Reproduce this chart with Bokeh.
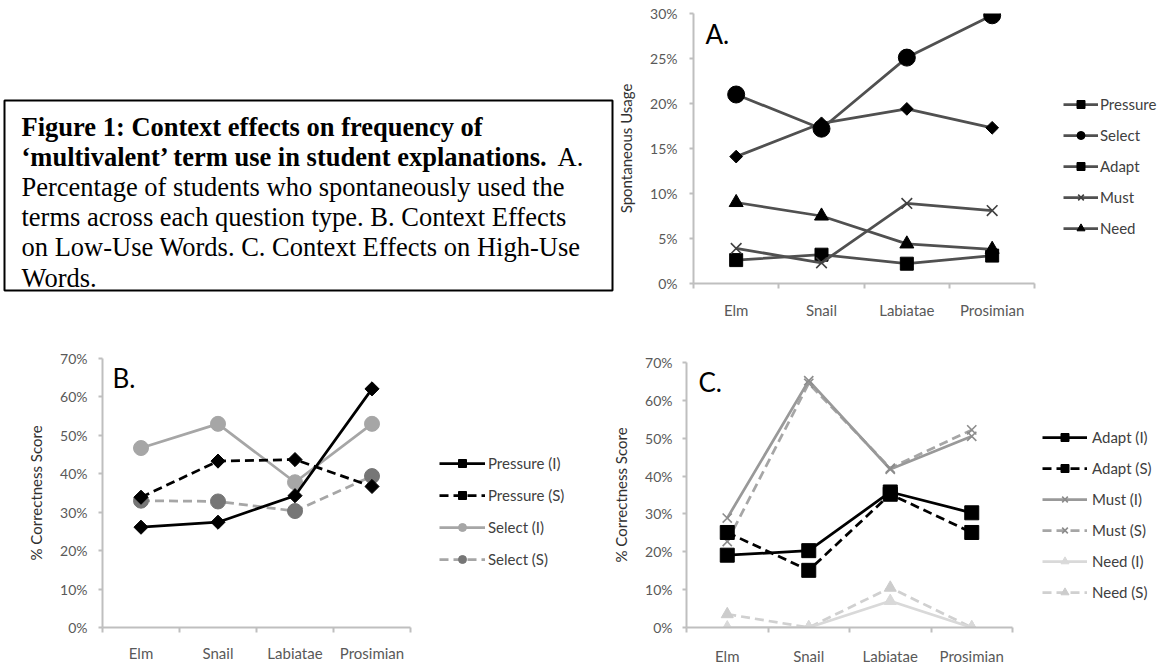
import numpy as np
from bokeh.plotting import figure
from bokeh.layouts import row, column
from bokeh.models import (Range1d, FixedTicker, NumeralTickFormatter, Legend,
                          LegendItem, Label, ColumnDataSource, BoxAnnotation)
from bokeh.embed import file_html
from bokeh.resources import INLINE

# ---------------- data ----------------
categories = ["Elm", "Snail", "Labiatae", "Prosimian"]

# Panel A: spontaneous usage
a_pressure = [0.141, 0.178, 0.194, 0.173]
a_select = [0.210, 0.172, 0.251, 0.298]
a_adapt = [0.026, 0.032, 0.022, 0.031]
a_must = [0.039, 0.023, 0.089, 0.081]
a_need = [0.090, 0.075, 0.044, 0.038]
a_yticks = [0.0, 0.05, 0.10, 0.15, 0.20, 0.25, 0.30]

# Panel B: low-use words, correctness
b_pressure_i = [0.261, 0.274, 0.343, 0.621]
b_pressure_s = [0.339, 0.433, 0.437, 0.367]
b_select_i = [0.467, 0.530, 0.378, 0.530]
b_select_s = [0.330, 0.328, 0.303, 0.394]

# Panel C: high-use words, correctness
c_adapt_i = [0.191, 0.203, 0.358, 0.303]
c_adapt_s = [0.251, 0.151, 0.352, 0.251]
c_must_i = [0.289, 0.652, 0.418, 0.505]
c_must_s = [0.227, 0.645, 0.421, 0.522]
c_need_i = [0.0, 0.0, 0.070, 0.0]
c_need_s = [0.035, 0.0, 0.105, 0.0]
bc_yticks = [0.0, 0.1, 0.2, 0.3, 0.4, 0.5, 0.6, 0.7]

caption_lines = [
    "Figure 1: Context effects on frequency of",
    "\u2018multivalent\u2019 term use in student explanations.",
    "Percentage of students who spontaneously used the",
    "terms across each question type. B. Context Effects",
    "on Low-Use Words. C. Context Effects on High-Use",
    "Words.",
]
caption_bold = [True, True, False, False, False, False]
caption_tail = "A."

FONT = "Lato"
AXIS_GRAY = "#bfbfbf"
TICK_GRAY = "#595959"

xs = [i + 0.5 for i in range(len(categories))]
ncat = len(categories)


def make_panel(width, height, bl, bt, bb, cat_px, yticks, ylabel, x_standoff, y_standoff):
    """The frame spans the full width right of the y axis (room for the legend);
    the axes are bounded to the data region."""
    frame_w = width - bl
    x_end = frame_w / cat_px
    p = figure(width=width, height=height, title=None,
               x_range=Range1d(0, x_end), y_range=Range1d(yticks[0], yticks[-1]),
               output_backend="svg", toolbar_location=None,
               min_border_left=bl, min_border_right=0, min_border_top=bt, min_border_bottom=bb)
    p.outline_line_color = None
    p.xgrid.visible = False
    p.ygrid.visible = False
    xa = p.xaxis[0]
    xa.bounds = (0, ncat)
    xa.ticker = FixedTicker(ticks=xs, minor_ticks=list(range(ncat + 1)))
    xa.major_label_overrides = {x: c for x, c in zip(xs, categories)}
    xa.major_tick_out = 0
    xa.major_tick_in = 0
    xa.minor_tick_out = 5
    xa.minor_tick_in = 0
    xa.minor_tick_line_color = AXIS_GRAY
    xa.minor_tick_line_width = 2
    xa.axis_line_color = AXIS_GRAY
    xa.axis_line_width = 2
    xa.major_label_text_font = FONT
    xa.major_label_text_font_size = "15px"
    xa.major_label_text_color = TICK_GRAY
    xa.major_label_standoff = x_standoff
    ya = p.yaxis[0]
    ya.ticker = FixedTicker(ticks=yticks)
    ya.formatter = NumeralTickFormatter(format="0%")
    ya.axis_line_color = AXIS_GRAY
    ya.axis_line_width = 2
    ya.major_tick_line_color = AXIS_GRAY
    ya.major_tick_line_width = 2
    ya.major_tick_out = 4
    ya.major_tick_in = 0
    ya.minor_tick_line_color = None
    ya.major_label_text_font = FONT
    ya.major_label_text_font_size = "14px"
    ya.major_label_text_color = TICK_GRAY
    ya.major_label_standoff = y_standoff
    ya.axis_label = ylabel
    ya.axis_label_text_font = FONT
    ya.axis_label_text_font_size = "15px"
    ya.axis_label_text_font_style = "normal"
    ya.axis_label_text_color = "#303030"
    ya.axis_label_standoff = 12
    return p


def add_series(p, ys, color, dash, width, marker, msize, mcolor, angle=0.0):
    src = ColumnDataSource(dict(x=xs, y=ys))
    ln = p.line("x", "y", source=src, line_color=color, line_width=width, line_dash=dash)
    if marker == "x":
        sc = p.scatter("x", "y", source=src, marker="x", size=msize,
                       line_color=mcolor, line_width=1.6)
    else:
        sc = p.scatter("x", "y", source=src, marker=marker, size=msize, angle=angle,
                       fill_color=mcolor, line_color=mcolor)
    return [ln, sc]


def add_legend(p, items, vx, vy, spacing, glyph_w, standoff):
    leg = Legend(items=items, location=(vx, vy), orientation="vertical",
                 spacing=spacing, padding=0, margin=0,
                 glyph_width=glyph_w, glyph_height=20, label_height=20,
                 label_standoff=standoff, label_text_font=FONT,
                 label_text_font_size="15px", label_text_color="#404040",
                 background_fill_alpha=0, border_line_alpha=0)
    p.add_layout(leg, "center")


def panel_letter(p, text, x, y):
    p.add_layout(Label(x=x, y=y, x_units="screen", y_units="screen", text=text,
                       text_font=FONT, text_font_size="26px", text_color="#000000",
                       text_baseline="alphabetic"))


TOP_H = 328
BOT_H = 667 - TOP_H

# ---------------- caption ----------------
CAP_W = 614
cap = figure(width=CAP_W, height=TOP_H, title=None,
             x_range=Range1d(0, CAP_W), y_range=Range1d(0, TOP_H),
             output_backend="svg", toolbar_location=None, x_axis_type=None, y_axis_type=None,
             min_border_left=0, min_border_right=0, min_border_top=0, min_border_bottom=0)
cap.outline_line_color = None
cap.add_layout(BoxAnnotation(left=4, right=612, bottom=TOP_H - 290, top=TOP_H - 100,
                             fill_alpha=0, line_color="black", line_alpha=1.0, line_width=2))
for i, (txt, b) in enumerate(zip(caption_lines, caption_bold)):
    cap.add_layout(Label(x=21, y=TOP_H - 126 - 30.2 * i, x_units="screen", y_units="screen",
                         text=txt, text_font="Liberation Serif", text_font_size="26.5px",
                         text_font_style="bold" if b else "normal", text_color="#000000",
                         text_baseline="alphabetic"))
cap.add_layout(Label(x=557, y=TOP_H - 156.2, x_units="screen", y_units="screen", text=caption_tail,
                     text_font="Liberation Serif", text_font_size="26.5px",
                     text_color="#000000", text_baseline="alphabetic"))

# ---------------- panel A ----------------
A_W = 1159 - CAP_W
A_BL = 688 - CAP_W
pa = make_panel(A_W, TOP_H, A_BL, 13, TOP_H - 283, 86.25, a_yticks, "Spontaneous Usage", 12, 12)
DARK = "#505050"
ra1 = add_series(pa, a_pressure, DARK, "solid", 2.75, "square", 9, "#000000", np.pi / 4)
ra2 = add_series(pa, a_select, DARK, "solid", 2.75, "circle", 17, "#000000")
ra3 = add_series(pa, a_adapt, DARK, "solid", 2.75, "square", 13, "#000000")
ra4 = add_series(pa, a_must, DARK, "solid", 2.75, "x", 15, "#404040")
ra5 = add_series(pa, a_need, DARK, "solid", 2.75, "triangle", 14, "#000000")
add_legend(pa, [LegendItem(label="Pressure", renderers=ra1),
                LegendItem(label="Select", renderers=ra2),
                LegendItem(label="Adapt", renderers=ra3),
                LegendItem(label="Must", renderers=ra4),
                LegendItem(label="Need", renderers=ra5)], 370, 45, 11, 35, 2)
panel_letter(pa, "A.", 12, 250)

# ---------------- panel B ----------------
B_W = 606
pb = make_panel(B_W, BOT_H, 102, 358 - TOP_H, 667 - 627, 77.0, bc_yticks,
                "% Correctness Score", 11, 11)
DASH = "9 5"
rb4 = add_series(pb, b_select_s, "#a6a6a6", DASH, 2.75, "circle", 15, "#767676")
rb3 = add_series(pb, b_select_i, "#a6a6a6", "solid", 2.75, "circle", 15, "#a6a6a6")
rb2 = add_series(pb, b_pressure_s, "#000000", DASH, 2.75, "square", 10, "#000000", np.pi / 4)
rb1 = add_series(pb, b_pressure_i, "#000000", "solid", 2.75, "square", 10, "#000000", np.pi / 4)
add_legend(pb, [LegendItem(label="Pressure (I)", renderers=rb1),
                LegendItem(label="Pressure (S)", renderers=rb2),
                LegendItem(label="Select (I)", renderers=rb3),
                LegendItem(label="Select (S)", renderers=rb4)], 337, 58, 12, 46, 3)
panel_letter(pb, "B.", 10, 250)

# ---------------- panel C ----------------
C_W = 1159 - B_W
pc = make_panel(C_W, BOT_H, 686 - B_W, 362 - TOP_H, 667 - 628, 81.5, bc_yticks,
                "% Correctness Score", 14, 10)
rc6 = add_series(pc, c_need_s, "#d0d0d0", DASH, 2.75, "triangle", 12, "#cccccc")
rc5 = add_series(pc, c_need_i, "#d9d9d9", "solid", 2.75, "triangle", 12, "#d9d9d9")
rc4 = add_series(pc, c_must_s, "#a6a6a6", DASH, 2.75, "x", 13, "#8c8c8c")
rc3 = add_series(pc, c_must_i, "#999999", "solid", 2.75, "x", 13, "#8c8c8c")
rc2 = add_series(pc, c_adapt_s, "#000000", DASH, 2.75, "square", 14, "#000000")
rc1 = add_series(pc, c_adapt_i, "#000000", "solid", 2.75, "square", 14, "#000000")
add_legend(pc, [LegendItem(label="Adapt (I)", renderers=rc1),
                LegendItem(label="Adapt (S)", renderers=rc2),
                LegendItem(label="Must (I)", renderers=rc3),
                LegendItem(label="Must (S)", renderers=rc4),
                LegendItem(label="Need (I)", renderers=rc5),
                LegendItem(label="Need (S)", renderers=rc6)], 356, 25, 11, 45, 5)
panel_letter(pc, "C.", 12, 246)

# wrap each figure so that the rows do not align the plot borders
layout = column(row(column(cap), column(pa)), row(column(pb), column(pc)))
open("out.html", "w").write(file_html(layout, INLINE))
